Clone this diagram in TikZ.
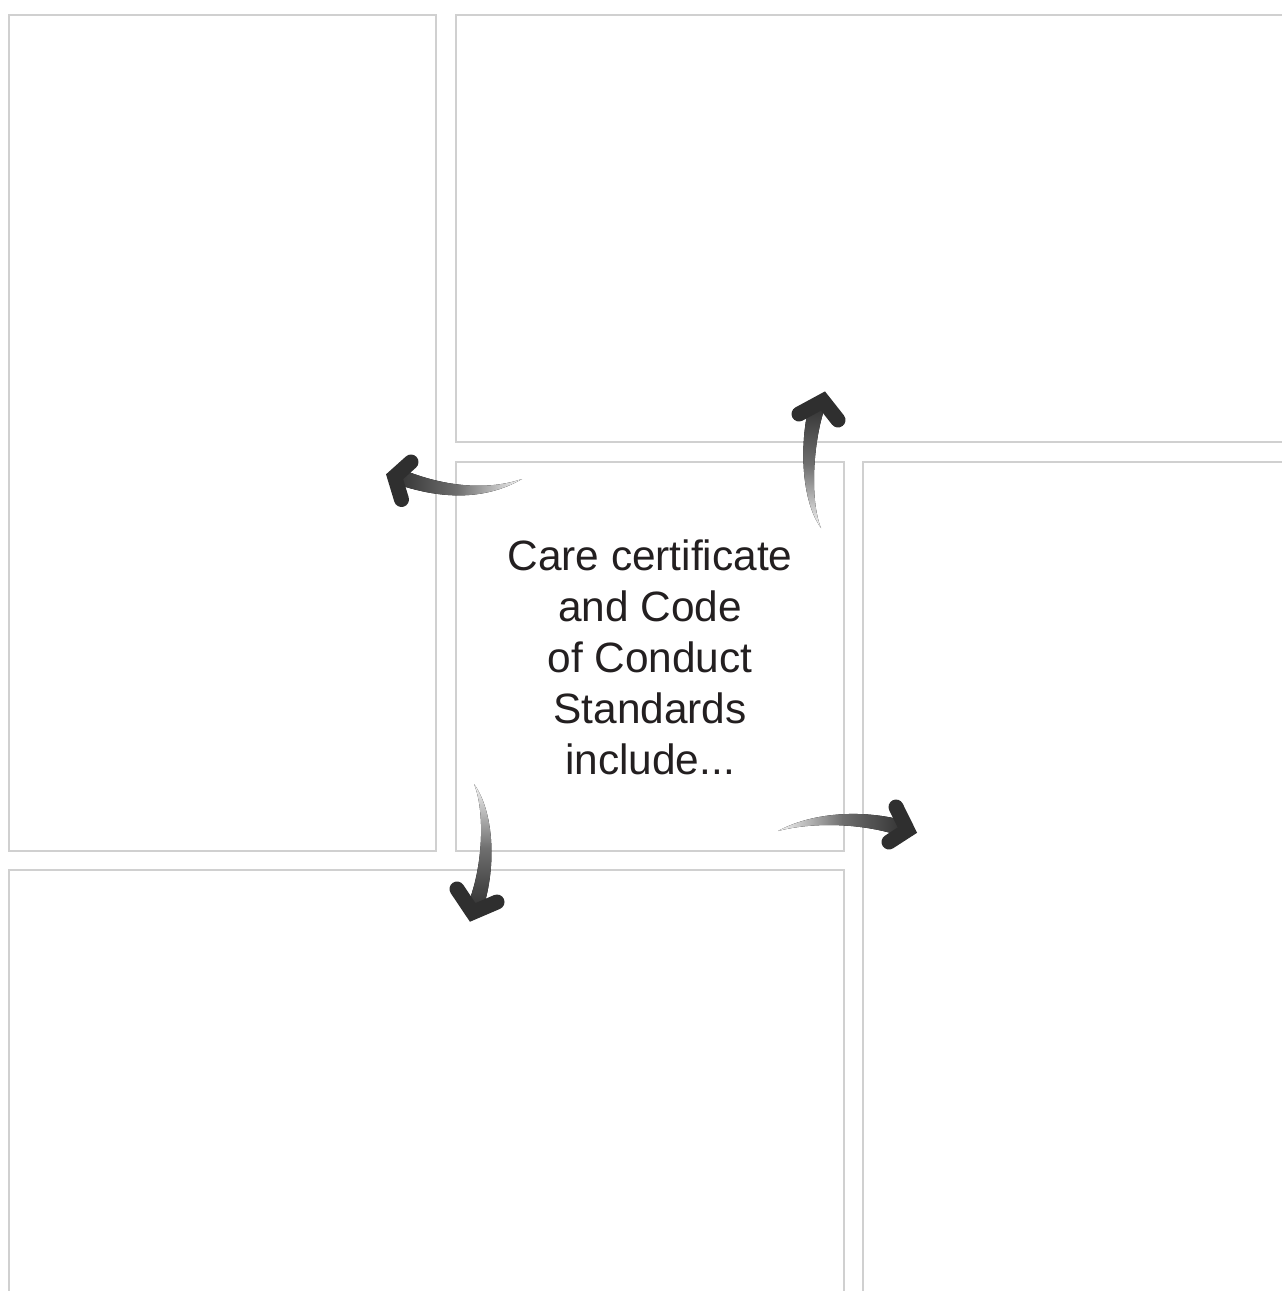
\documentclass[tikz,border=0pt]{standalone}
\usepackage{fontspec}
\setmainfont{Liberation Sans}
\definecolor{boxgray}{HTML}{D0D0D0}
\definecolor{txt}{HTML}{231F20}
\definecolor{arrdark}{HTML}{2F2F2F}
\definecolor{arrmid}{HTML}{6E6E6E}
\definecolor{arrlight}{HTML}{F4F4F4}
\tikzset{
  panel/.style={draw=boxgray, line width=2.8pt, fill=white, inner sep=0pt, outer sep=0pt},
  chevron/.style={draw=arrdark, line width=15pt, line cap=round, line join=miter},
}
\begin{document}
\begin{tikzpicture}[x=1pt,y=-1pt]
\useasboundingbox (0,0) rectangle (1282,1291);
\clip (0,0) rectangle (1282,1291);
\fill[white] (0,0) rectangle (1282,1291);
% panels
\node[panel, minimum width=427, minimum height=836] (tl) at (222.5,433) {};
\node[panel, minimum width=834, minimum height=427] (tr) at (873,228.5) {};
\node[panel, minimum width=388, minimum height=389] (ctr) at (650,656.5) {};
\node[panel, minimum width=427, minimum height=838] (rt) at (1076.5,881) {};
\node[panel, minimum width=835, minimum height=430] (bl) at (426.5,1085) {};
% label
\node[text=txt, font=\fontsize{42.4}{51}\selectfont, align=center, inner sep=0pt] (lbl) at (650,657)
  {Care certificate\\and Code\\of Conduct\\Standards\\include...};
% left arrow
\fill[left color=arrdark, right color=arrlight, middle color=arrmid]
  (522,479) .. controls (485,491.5) and (440,486) .. (398,467.6)
  -- (392,482.4) .. controls (440,500) and (485,500.5) .. (522,479) -- cycle;
\draw[chevron] (411,462) -- (394.6,476.7) -- (401.5,499.5);
% up arrow
\fill[top color=arrdark, bottom color=arrlight, middle color=arrmid]
  (821,528) .. controls (800.5,500) and (799,440) .. (810.4,400.5)
  -- (825.6,405.5) .. controls (813,440) and (809.5,500) .. (821,528) -- cycle;
\draw[chevron] (799,414) -- (823,401) -- (838,420);
% right arrow
\fill[left color=arrlight, right color=arrdark, middle color=arrmid]
  (778,831) .. controls (810,813.5) and (860,808) .. (907.4,821.4)
  -- (902.6,836.6) .. controls (860,822) and (810,822.5) .. (778,831) -- cycle;
\draw[chevron] (896,807) -- (907.4,830.1) -- (889,842);
% down arrow
\fill[top color=arrlight, bottom color=arrdark, middle color=arrmid]
  (474,784) .. controls (485.5,812) and (483,870) .. (466.6,907)
  -- (481.4,913) .. controls (497,870) and (494.5,812) .. (474,784) -- cycle;
\draw[chevron] (457,889) -- (472.7,912.4) -- (497,902);
\end{tikzpicture}
\end{document}
